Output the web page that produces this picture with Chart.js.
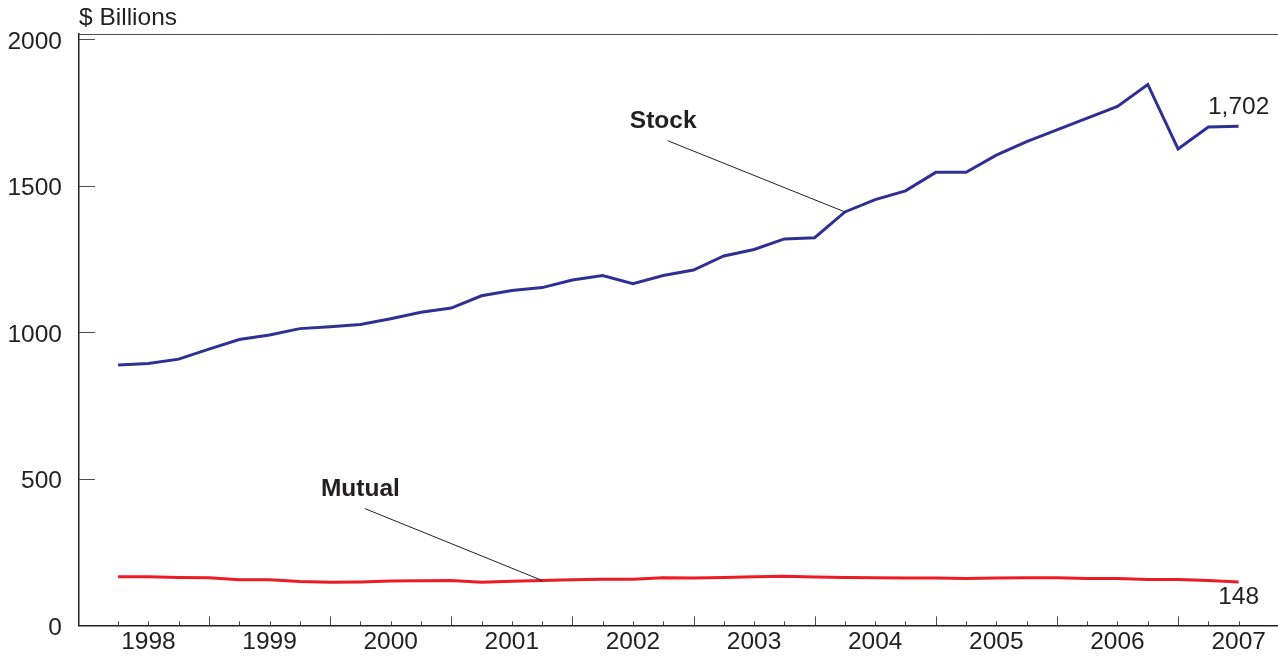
<!DOCTYPE html>
<html>
<head>
<meta charset="utf-8">
<script src="https://cdn.jsdelivr.net/npm/chart.js@4.4.1/dist/chart.umd.min.js"></script>
<style>
  html, body { margin: 0; padding: 0; background: #ffffff; }
</style>
</head>
<body>
<canvas id="myChart" width="1278" height="657"></canvas>
<script>
// Years shown on the x axis, one label per year (quarterly data 1998 Q1 .. 2007 Q2)
let years = [1998, 1999, 2000, 2001, 2002, 2003, 2004, 2005, 2006, 2007];
let quarterNames = ['Q1', 'Q2', 'Q3', 'Q4'];

// $ Billions, one value per quarter
let stockValues = [
  888, 893, 908, 942,
  975, 990, 1012, 1018,
  1026, 1046, 1068, 1082,
  1124, 1142, 1152, 1178,
  1193, 1165, 1193, 1212,
  1260, 1282, 1318, 1322,
  1410, 1452, 1482, 1545,
  1545, 1604, 1650, 1690,
  1730, 1770, 1845, 1625,
  1700, 1702
];
let mutualValues = [
  166, 166, 163, 162,
  155, 155, 149, 147,
  148, 151, 152, 153,
  147, 150, 153, 155,
  157, 157, 162, 161,
  163, 166, 167, 165,
  163, 162, 161, 161,
  160, 161, 162, 162,
  160, 160, 156, 156,
  153, 148
];
let yTickValues = [0, 500, 1000, 1500, 2000];

// quarter labels built from the years
let quarterLabels = [];
years.forEach(function(y) {
  quarterNames.forEach(function(q) {
    if (quarterLabels.length < stockValues.length) quarterLabels.push(y + ' ' + q);
  });
});

let fontFamily = '"Liberation Sans", Arial, Helvetica, sans-serif';
let fontSize = 24.5;
let textColor = '#231f20';
let axisColor = '#231f20';

function toPoints(values) {
  return values.map(function(v, i) { return { x: i, y: v }; });
}

// Ticks inside the frame, top line of the frame, annotations
let framePlugin = {
  id: 'frame',
  beforeDatasetsDraw(chart) {
    let ctx = chart.ctx;
    let xs = chart.scales.x;
    let ys = chart.scales.y;
    let area = chart.chartArea;
    ctx.save();
    ctx.lineWidth = 1;
    ctx.strokeStyle = '#4d4d4d';
    ctx.beginPath();
    ctx.moveTo(area.left, area.top + 0.5);
    ctx.lineTo(area.right, area.top + 0.5);
    // y ticks pointing into the plot
    yTickValues.forEach(function(v) {
      if (v === 0) return;
      let py = Math.round(ys.getPixelForValue(v)) + 0.5;
      ctx.moveTo(area.left, py);
      ctx.lineTo(area.left + 16, py);
    });
    // x ticks, longer at each fourth quarter
    quarterLabels.forEach(function(lbl, i) {
      let px = Math.round(xs.getPixelForValue(i)) + 0.5;
      let len = (i % 4 === 3) ? 9 : 4;
      ctx.moveTo(px, area.bottom);
      ctx.lineTo(px, area.bottom - len);
    });
    ctx.stroke();
    ctx.restore();
  },
  afterDatasetsDraw(chart) {
    let ctx = chart.ctx;
    let xs = chart.scales.x;
    let ys = chart.scales.y;
    let area = chart.chartArea;
    let last = stockValues.length - 1;
    ctx.save();
    ctx.fillStyle = textColor;
    ctx.font = fontSize + 'px ' + fontFamily;
    ctx.textAlign = 'left';
    ctx.textBaseline = 'alphabetic';
    ctx.fillText('$ Billions', area.left, 25);

    // end values
    ctx.textAlign = 'center';
    ctx.textBaseline = 'middle';
    ctx.fillText('1,702', xs.getPixelForValue(last), ys.getPixelForValue(1768));
    ctx.fillText('148', xs.getPixelForValue(last), ys.getPixelForValue(97));

    // series names with leader lines
    ctx.font = 'bold ' + fontSize + 'px ' + fontFamily;
    ctx.fillText('Stock', xs.getPixelForValue(18.0), ys.getPixelForValue(1718));
    ctx.fillText('Mutual', xs.getPixelForValue(8.0), ys.getPixelForValue(463));

    ctx.strokeStyle = '#231f20';
    ctx.lineWidth = 1;
    ctx.beginPath();
    ctx.moveTo(xs.getPixelForValue(18.15), ys.getPixelForValue(1653));
    ctx.lineTo(xs.getPixelForValue(24), ys.getPixelForValue(stockValues[24]));
    ctx.moveTo(xs.getPixelForValue(8.15), ys.getPixelForValue(398));
    ctx.lineTo(xs.getPixelForValue(14), ys.getPixelForValue(mutualValues[14]));
    ctx.stroke();
    ctx.restore();
  }
};

let ctx1 = document.getElementById('myChart').getContext('2d');
let myChart = new Chart(ctx1, {
  type: 'line',
  data: {
    datasets: [{
      label: 'Stock',
      data: toPoints(stockValues),
      borderColor: '#2e3192',
      borderWidth: 3,
      pointRadius: 0,
      tension: 0
    }, {
      label: 'Mutual',
      data: toPoints(mutualValues),
      borderColor: '#ed1c24',
      borderWidth: 3,
      pointRadius: 0,
      tension: 0
    }]
  },
  options: {
    responsive: false,
    animation: false,
    devicePixelRatio: 1,
    layout: { padding: { top: 34, right: 0, bottom: 0, left: 0 } },
    plugins: {
      legend: { display: false },
      tooltip: { enabled: false }
    },
    scales: {
      x: {
        type: 'linear',
        min: -1.291,
        max: 38.30,
        grid: { display: false, drawTicks: false },
        border: { display: true, color: axisColor, width: 1.5 },
        afterBuildTicks: function(scale) {
          // one label per year, placed on the second quarter
          scale.ticks = years.map(function(y, k) { return { value: k * 4 + 1 }; });
        },
        afterFit: function(scale) { scale.height = 30; },
        ticks: {
          padding: 2,
          maxRotation: 0,
          autoSkip: false,
          color: textColor,
          font: { family: fontFamily, size: fontSize },
          callback: function(value) {
            return String(years[Math.round((value - 1) / 4)]);
          }
        }
      },
      y: {
        min: 0,
        max: 2017,
        grid: { display: false, drawTicks: false },
        border: { display: true, color: axisColor, width: 1.5 },
        afterBuildTicks: function(scale) {
          scale.ticks = yTickValues.map(function(v) { return { value: v }; });
        },
        afterFit: function(scale) { scale.width = 79; },
        ticks: {
          padding: 17,
          labelOffset: 3,
          color: textColor,
          font: { family: fontFamily, size: fontSize },
          callback: function(value) { return String(value); }
        }
      }
    }
  },
  plugins: [framePlugin]
});
</script>
</body>
</html>
